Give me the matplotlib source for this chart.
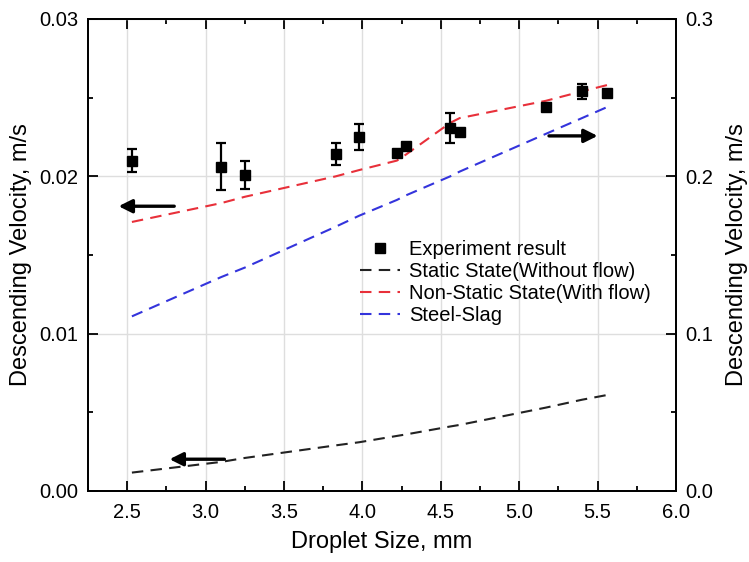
import matplotlib
matplotlib.use("Agg")
import matplotlib.pyplot as plt
from matplotlib.lines import Line2D
from matplotlib.ticker import MultipleLocator, FormatStrFormatter

plt.rcParams['font.family'] = ['Liberation Sans', 'DejaVu Sans']

# Measured descending velocities (m/s)
exp_size = [2.53, 3.10, 3.25, 3.83, 3.98, 4.22, 4.28, 4.56, 4.62, 5.17, 5.40, 5.56]
exp_vel = [0.0210, 0.0206, 0.0201, 0.0214, 0.0225, 0.0215, 0.0219, 0.0231, 0.0228, 0.0244, 0.0254, 0.0253]
exp_err = [0.00075, 0.0015, 0.0009, 0.0007, 0.0008, 0.0001, 0.0001, 0.00095, 0.0001, 0.0001, 0.00048, 0.0001]

# Model curves evaluated at the same droplet sizes
static_vel = [0.00117, 0.00185, 0.0021, 0.0029, 0.0031, 0.0035, 0.0036, 0.0041, 0.0042, 0.0053, 0.0058, 0.0061]
nonstatic_vel = [0.0171, 0.0183, 0.0187, 0.0200, 0.0204, 0.0210, 0.0214, 0.0234, 0.0237, 0.0248, 0.0254, 0.0258]
steel_slag_vel = [0.111, 0.136, 0.142, 0.168, 0.175, 0.185, 0.188, 0.200, 0.203, 0.227, 0.237, 0.244]

fig = plt.figure(figsize=(7.49, 5.62), dpi=100)
ax = fig.add_axes([88 / 749, 71 / 562, 588 / 749, 472 / 562])
ax2 = ax.twinx()

dash = (5.5, 3.5)
lw = 1.5
ax.errorbar(exp_size, exp_vel, yerr=exp_err, fmt='s', color='black', ms=7.6,
            elinewidth=1.6, capsize=3.8, capthick=1.6, zorder=5)
ax.plot(exp_size, static_vel, color='#222222', lw=lw, dashes=dash)
ax.plot(exp_size, nonstatic_vel, color='#e8303a', lw=lw, dashes=dash)
ax2.plot(exp_size, steel_slag_vel, color='#3434dc', lw=lw, dashes=dash)

ax.set_xlim(2.25, 6.0)
ax.set_ylim(0, 0.03)
ax2.set_ylim(0, 0.3)

ax.xaxis.set_major_locator(MultipleLocator(0.5))
ax.xaxis.set_minor_locator(MultipleLocator(0.25))
ax.yaxis.set_major_locator(MultipleLocator(0.01))
ax.yaxis.set_minor_locator(MultipleLocator(0.005))
ax2.yaxis.set_major_locator(MultipleLocator(0.1))
ax2.yaxis.set_minor_locator(MultipleLocator(0.05))
ax.xaxis.set_major_formatter(FormatStrFormatter('%.1f'))
ax.yaxis.set_major_formatter(FormatStrFormatter('%.2f'))
ax2.yaxis.set_major_formatter(FormatStrFormatter('%.1f'))

ax.grid(True, which='major', color='#dedede', lw=1.0)
ax.set_axisbelow(True)

ax.tick_params(which='both', direction='in', top=True, right=False, width=1.3,
               labelsize=14.5)
ax.tick_params(axis='x', pad=9)
ax.tick_params(axis='y', pad=7)
ax.tick_params(which='major', length=7)
ax.tick_params(which='minor', length=3.5)
ax2.tick_params(which='both', direction='in', width=1.3, labelsize=14.5, pad=7)
ax2.tick_params(which='major', length=7)
ax2.tick_params(which='minor', length=3.5)
for a in (ax, ax2):
    for s in a.spines.values():
        s.set_linewidth(1.3)

ax.set_xlabel('Droplet Size, mm', fontsize=17, labelpad=6)
ax.set_ylabel('Descending Velocity, m/s', fontsize=17, labelpad=5)
ax2.set_ylabel('Descending Velocity, m/s', fontsize=17, labelpad=9)

# Arrows pointing to the axis each curve belongs to
arrow = dict(arrowstyle='-|>,head_length=0.8,head_width=0.4', color='black', lw=2.4,
             shrinkA=0, shrinkB=0)
ax.annotate('', xy=(2.445, 0.0181), xytext=(2.80, 0.0181), arrowprops=arrow)
ax.annotate('', xy=(2.77, 0.00202), xytext=(3.12, 0.00202), arrowprops=arrow)
ax.annotate('', xy=(5.50, 0.02257), xytext=(5.19, 0.02257), arrowprops=arrow)

handles = [
    Line2D([], [], marker='s', ls='none', color='black', ms=7.6),
    Line2D([], [], color='#222222', lw=lw, dashes=dash),
    Line2D([], [], color='#e8303a', lw=lw, dashes=dash),
    Line2D([], [], color='#3434dc', lw=lw, dashes=dash),
]
labels = ['Experiment result', 'Static State(Without flow)',
          'Non-Static State(With flow)', 'Steel-Slag']
ax.legend(handles, labels, loc='upper left', bbox_to_anchor=(360 / 749, 1 - 240 / 562),
          bbox_transform=fig.transFigure, frameon=False, fontsize=14.5,
          borderpad=0, borderaxespad=0, handlelength=2.0, handletextpad=0.45,
          labelspacing=0.15)

fig.savefig('out.png', dpi=100)
